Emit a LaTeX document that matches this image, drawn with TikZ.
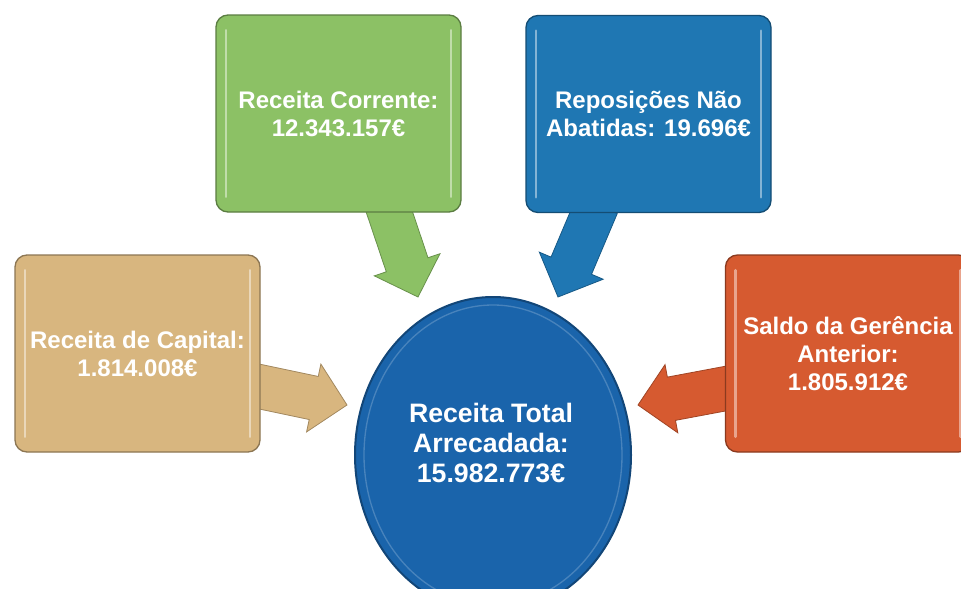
\documentclass[tikz,border=0pt]{standalone}
\usepackage{fontspec}
\setmainfont{Liberation Sans}
\usetikzlibrary{calc,shapes.geometric}
\pgfdeclarelayer{bg}
\pgfsetlayers{bg,main}
\definecolor{cgreen}{HTML}{8CC165}
\definecolor{cblue}{HTML}{1F77B3}
\definecolor{ctan}{HTML}{D8B67F}
\definecolor{cred}{HTML}{D65A30}
\definecolor{ccirc}{HTML}{1A64AB}
\tikzset{
  box/.style={rectangle, rounded corners=9pt, minimum width=183.75pt, minimum height=147.75pt,
    inner sep=0pt, align=center, text=white, line width=1pt,
    font=\bfseries\fontsize{18}{21}\selectfont},
  hl/.style={line width=2.2pt, line cap=round},
}
% #1 start, #2 tip, #3 colour, #4 name prefix
\newcommand\blockarrow[4]{%
  \coordinate (#4h) at ($(#2)!25.5pt!(#1)$);
  \filldraw[fill=#3, draw=#3!75!black, line width=0.6pt, line join=miter]
    ($(#1)!16.5pt!90:(#2)$) -- ($(#4h)!16.5pt!90:(#2)$) -- ($(#4h)!26pt!90:(#2)$) --
    (#2) -- ($(#4h)!26pt!-90:(#2)$) -- ($(#4h)!16.5pt!-90:(#2)$) --
    ($(#1)!16.5pt!-90:(#2)$) -- cycle;}
\newcommand\highlights[2]{%
  \draw[hl, white!45!#2] ([xshift=8pt,yshift=-12pt]#1.north west) -- ([xshift=8pt,yshift=12pt]#1.south west);
  \draw[hl, white!45!#2] ([xshift=-8pt,yshift=-12pt]#1.north east) -- ([xshift=-8pt,yshift=12pt]#1.south east);}
\begin{document}
\begin{tikzpicture}[x=0.75pt,y=-0.75pt]
\useasboundingbox (0,0) rectangle (961,589);
\clip (0,0) rectangle (961,589);
% boxes
\node[box, fill=cgreen, draw=cgreen!65!black] (rc) at (338.5,113.5) {Receita Corrente:\\12.343.157€};
\node[box, fill=cblue, draw=cblue!65!black] (rn) at (648.5,114) {Reposições Não\\Abatidas: 19.696€};
\node[box, fill=ctan, draw=ctan!65!black] (rk) at (137.5,353.5) {Receita de Capital:\\1.814.008€};
\node[box, fill=cred, draw=cred!65!black] (sg) at (848,353.5) {Saldo da Gerência\\Anterior:\\1.805.912€};
\highlights{rc}{cgreen}
\highlights{rn}{cblue}
\highlights{rk}{ctan}
\highlights{sg}{cred}
% central ellipse
\node[ellipse, fill=ccirc, draw=ccirc!70!black, line width=1.5pt, minimum width=207pt,
  minimum height=237pt, inner sep=0pt] (tot) at (493,455) {};
\draw[white!20!ccirc, line width=1pt] (tot.center) ellipse [x radius=129, y radius=150];
\node[text=white, font=\bfseries\fontsize{20}{22.5}\selectfont, align=center] (tott) at (491,443)
  {Receita Total\\Arrecadada:\\15.982.773€};
% arrows (behind)
\coordinate (gs) at (387,205); \coordinate (gt) at (418,297);
\coordinate (bs) at (597,205); \coordinate (bt) at (558,297);
\coordinate (ks) at (252,385); \coordinate (kt) at (347,405);
\coordinate (ss) at (734,387); \coordinate (st) at (638,405);
\begin{pgfonlayer}{bg}
  \fill[white] (0,0) rectangle (961,589);
  \blockarrow{gs}{gt}{cgreen}{ga}
  \blockarrow{bs}{bt}{cblue}{ba}
  \blockarrow{ks}{kt}{ctan}{ka}
  \blockarrow{ss}{st}{cred}{sa}
\end{pgfonlayer}
\end{tikzpicture}
\end{document}
